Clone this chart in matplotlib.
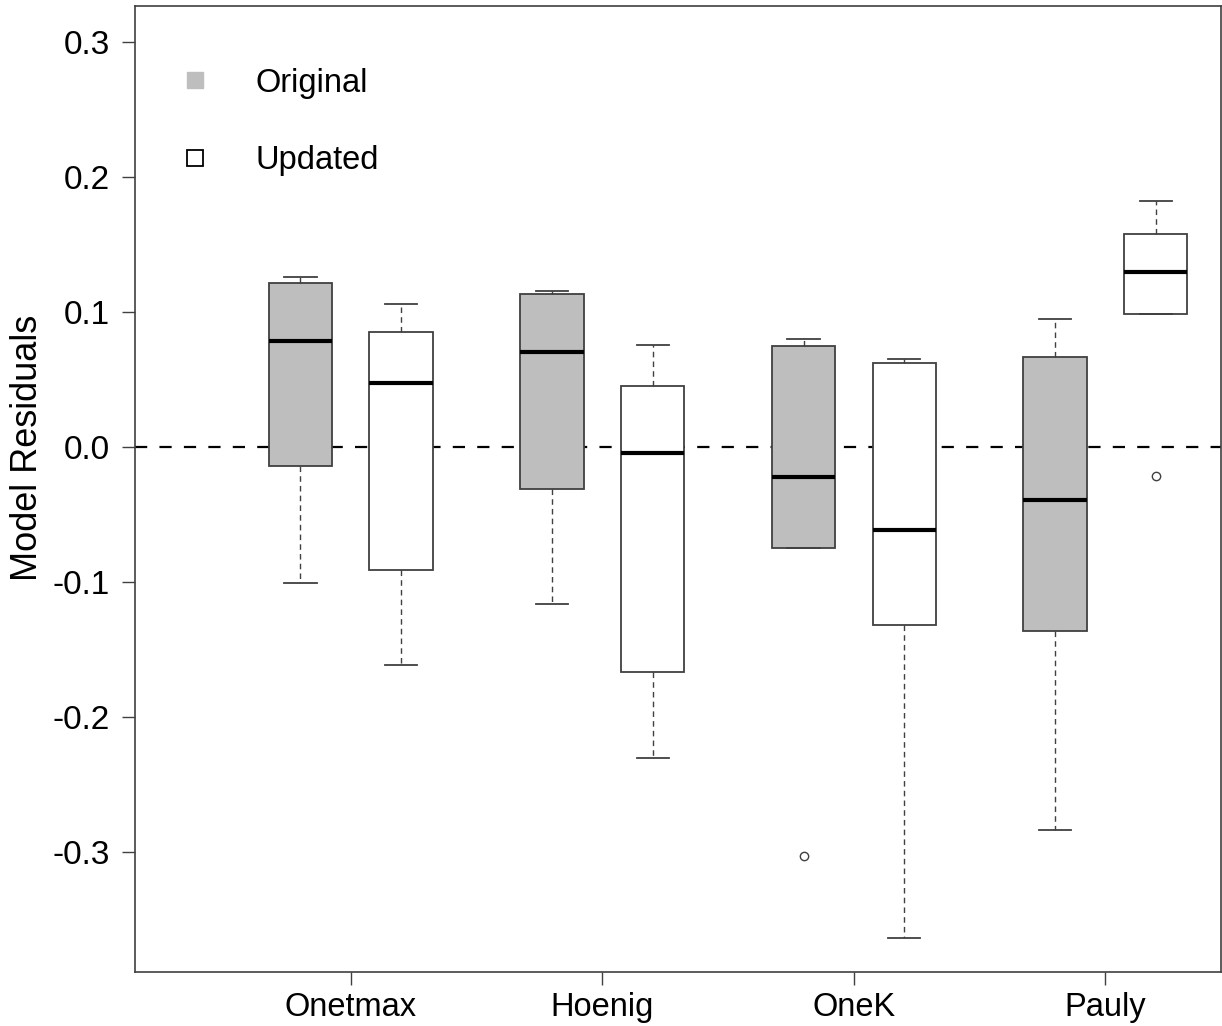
#!/usr/bin/env python3
# -*- coding: utf-8 -*-
"""
模型残差箱线图 - Original vs Updated
"""
import matplotlib
matplotlib.use('Agg')
import matplotlib.pyplot as plt
from matplotlib.lines import Line2D

plt.rcParams['font.family'] = ['Liberation Sans', 'DejaVu Sans']
plt.rcParams['axes.unicode_minus'] = False

# 数据
methods = ['Onetmax', 'Hoenig', 'OneK', 'Pauly']

orig_whislo = [-0.1007, -0.1160, -0.0751, -0.2837]
orig_q1 = [-0.0143, -0.0314, -0.0751, -0.1365]
orig_med = [0.0785, 0.0706, -0.0225, -0.0395]
orig_q3 = [0.1213, 0.1133, 0.0750, 0.0669]
orig_whishi = [0.1259, 0.1158, 0.0802, 0.0946]
orig_fliers = [[], [], [-0.303], []]

upd_whislo = [-0.1615, -0.2304, -0.3637, 0.0988]
upd_q1 = [-0.0911, -0.1667, -0.1321, 0.0988]
upd_med = [0.0472, -0.0044, -0.0617, 0.1296]
upd_q3 = [0.0850, 0.0454, 0.0625, 0.1580]
upd_whishi = [0.1062, 0.0756, 0.0650, 0.1820]
upd_fliers = [[], [], [], [-0.0215]]

y_ticks = [-0.3, -0.2, -0.1, 0.0, 0.1, 0.2, 0.3]

# 位置
orig_pos = [1, 3.5, 6, 8.5]
upd_pos = [2, 4.5, 7, 9.5]
group_pos = [1.5, 4, 6.5, 9]

GRAY = '#BEBEBE'
EDGE = '#404040'


def make_stats(lo, q1, med, q3, hi, fl):
    return [dict(whislo=a, q1=b, med=c, q3=d, whishi=e, fliers=f)
            for a, b, c, d, e, f in zip(lo, q1, med, q3, hi, fl)]


fig = plt.figure(figsize=(12.22, 10.26), dpi=100)
ax = fig.add_axes([0.1105, 0.0526, 0.8885, 0.9416])

# 零线
ax.axhline(0, color='black', lw=1.6, linestyle=(0, (5.5, 5.5)), zorder=1)

common = dict(
    widths=0.63, capwidths=0.32, patch_artist=True, manage_ticks=False,
    medianprops=dict(color='black', lw=3.0),
    whiskerprops=dict(color=EDGE, lw=1.0, linestyle=(0, (4, 3))),
    capprops=dict(color=EDGE, lw=1.3),
    flierprops=dict(marker='o', markersize=6, markerfacecolor='white',
                    markeredgecolor=EDGE, markeredgewidth=1.0),
)

ax.bxp(make_stats(orig_whislo, orig_q1, orig_med, orig_q3, orig_whishi, orig_fliers),
       positions=orig_pos,
       boxprops=dict(facecolor=GRAY, edgecolor=EDGE, lw=1.3), **common)
ax.bxp(make_stats(upd_whislo, upd_q1, upd_med, upd_q3, upd_whishi, upd_fliers),
       positions=upd_pos,
       boxprops=dict(facecolor='white', edgecolor=EDGE, lw=1.3), **common)

ax.set_xlim(-0.644, 10.146)
ax.set_ylim(-0.389, 0.3267)
ax.set_xticks(group_pos)
ax.set_xticklabels(methods, fontsize=23.5)
ax.set_yticks(y_ticks)
ax.set_yticklabels([f'{v:.1f}' for v in y_ticks], fontsize=24)
ax.tick_params(direction='out', length=9.5, width=1, color=EDGE)
ax.tick_params(axis='y', pad=8.5)
ax.tick_params(axis='x', pad=5)
for sp in ax.spines.values():
    sp.set_color(EDGE)
    sp.set_linewidth(1.2)

ax.set_ylabel('Model Residuals', fontsize=26)
ax.yaxis.set_label_coords(-0.0825, 0.543)

# 图例
legend_elements = [
    Line2D([0], [0], marker='s', linestyle='none', markersize=11,
           markerfacecolor=GRAY, markeredgecolor=GRAY, label='Original'),
    Line2D([0], [0], marker='s', linestyle='none', markersize=11,
           markerfacecolor='white', markeredgecolor='black', markeredgewidth=1.3,
           label='Updated'),
]
ax.legend(handles=legend_elements, loc='upper left', bbox_to_anchor=(0.0405, 0.936),
          frameon=False, fontsize=23.5, borderpad=0, borderaxespad=0,
          handlelength=1.0, handletextpad=1.35, labelspacing=1.42)

plt.savefig('out.png', dpi=100)
plt.close()
